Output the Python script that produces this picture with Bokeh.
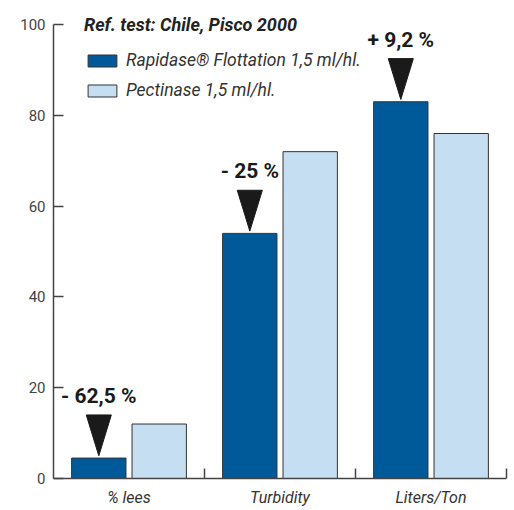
from bokeh.plotting import figure
from bokeh.models import Range1d, FixedTicker, ColumnDataSource, Legend, LegendItem
from bokeh.core.properties import value
from bokeh.embed import file_html
from bokeh.resources import INLINE

categories = ["% lees", "Turbidity", "Liters/Ton"]
rapidase = [4.5, 54, 83]
pectinase = [12, 72, 76]
changes = ["- 62,5 %", "- 25 %", "+ 9,2 %"]
series_names = ["Rapidase® Flottation 1,5 ml/hl.", "Pectinase 1,5 ml/hl."]
legend_title = "Ref. test: Chile, Pisco 2000"
y_ticks = [0, 20, 40, 60, 80, 100]

FONT = "Roboto"
DARK = "#005a9a"
LIGHT = "#c6def2"
EDGE = "#333333"

centers = [i + 0.5 for i in range(len(categories))]
dark_x = [c - 0.2 for c in centers]
light_x = [c + 0.2 for c in centers]

p = figure(frame_width=453, frame_height=468, output_backend="svg",
           toolbar_location=None, x_range=Range1d(0, len(categories)),
           y_range=Range1d(0, 103.1), min_border_left=53, min_border_top=10,
           min_border_right=2, min_border_bottom=0)
p.outline_line_color = None
p.grid.visible = False
p.background_fill_color = "white"

src_d = ColumnDataSource(dict(x=dark_x, top=rapidase))
src_l = ColumnDataSource(dict(x=light_x, top=pectinase))
r1 = p.vbar(x="x", top="top", width=0.36, bottom=0, source=src_d,
            fill_color=DARK, line_color=EDGE, line_width=1)
r2 = p.vbar(x="x", top="top", width=0.36, bottom=0, source=src_l,
            fill_color=LIGHT, line_color=EDGE, line_width=1)

# arrows (downward triangles) pointing to the Rapidase bars
half_w = 0.083
tri_h = 9.0
gap = 0.5
xs = [[x - half_w, x + half_w, x] for x in dark_x]
ys = [[v + gap + tri_h, v + gap + tri_h, v + gap] for v in rapidase]
p.patches(xs=xs, ys=ys, fill_color="#1a1a1a", line_color="#1a1a1a")

p.text(x=dark_x, y=[v + gap + tri_h + 1.5 for v in rapidase], text=changes,
       text_align="center", text_baseline="bottom",
       text_font=value(FONT), text_font_style="bold", text_font_size="21px",
       text_color="#1a1a1a")

# y axis
ya = p.yaxis[0]
ya.ticker = FixedTicker(ticks=y_ticks, minor_ticks=[])
ya.bounds = (0, 100)
ya.axis_line_color = "#444444"
ya.axis_line_width = 1.5
ya.major_tick_line_color = "#444444"
ya.major_tick_line_width = 1.5
ya.major_tick_in = 10
ya.major_tick_out = 0
ya.minor_tick_line_color = None
ya.major_label_standoff = 8
ya.major_label_text_font = FONT
ya.major_label_text_font_size = "15px"
ya.major_label_text_color = "#444444"

# x axis
xa = p.xaxis[0]
xa.ticker = FixedTicker(ticks=centers, minor_ticks=[1, 2, 3])
xa.major_label_overrides = {c: name for c, name in zip(centers, categories)}
xa.axis_line_color = "#444444"
xa.axis_line_width = 1.5
xa.major_tick_line_color = None
xa.minor_tick_line_color = "#444444"
xa.minor_tick_line_width = 1.5
xa.minor_tick_in = 10
xa.minor_tick_out = 0
xa.major_label_standoff = 3
xa.major_label_text_font = FONT
xa.major_label_text_font_style = "italic"
xa.major_label_text_font_size = "16px"
xa.major_label_text_color = "#333333"

legend = Legend(items=[LegendItem(label=series_names[0], renderers=[r1]),
                       LegendItem(label=series_names[1], renderers=[r2])],
                location=(31, 377), title=legend_title)
legend.title_text_font = FONT
legend.title_text_font_style = "bold italic"
legend.title_text_font_size = "18px"
legend.title_text_color = "#222222"
legend.title_standoff = 14
legend.label_text_font = FONT
legend.label_text_font_style = "italic"
legend.label_text_font_size = "17.5px"
legend.label_text_color = "#333333"
legend.glyph_width = 36
legend.glyph_height = 15
legend.label_height = 22
legend.spacing = 8
legend.label_standoff = 6
legend.padding = 0
legend.margin = 0
legend.border_line_color = None
legend.background_fill_alpha = 0
p.add_layout(legend)

open("out.html", "w").write(file_html(p, INLINE))
